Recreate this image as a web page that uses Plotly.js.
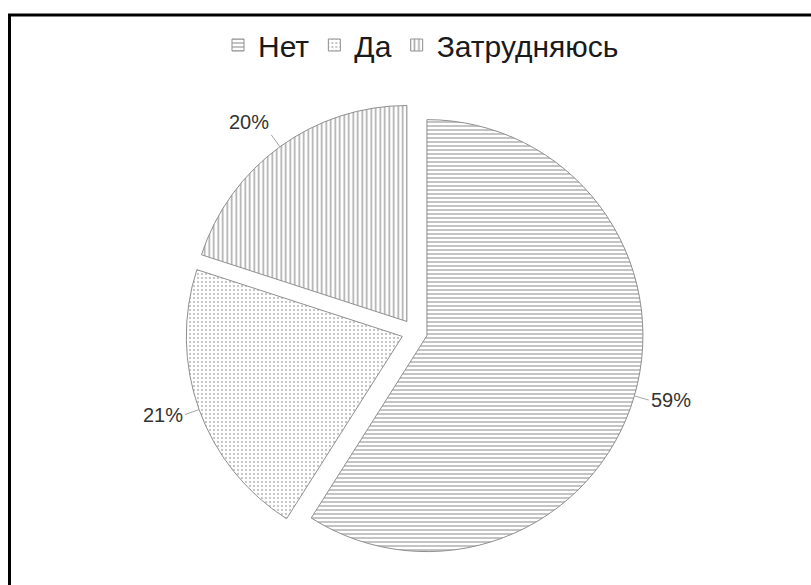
<!DOCTYPE html>
<html>
<head>
<meta charset="utf-8">
<script src="https://cdn.plot.ly/plotly-3.0.1.min.js"></script>
<style>
  html, body { margin: 0; padding: 0; background: #fff; }
  #chart { width: 811px; height: 585px; }
</style>
</head>
<body>
<div id="chart"></div>
<script>
// ---- data ----
const labels = ['Нет', 'Да', 'Затрудняюсь'];
const values = [59, 21, 20];
const valueText = ['59%', '21%', '20%'];
const patternShapes = ['-', '.', '|'];

// ---- layout constants ----
const W = 811, H = 585;
const cx = 414.5, cy = 332;      // pie centre in px (from top-left)
const R = 216;                    // slice radius in px
const pull = 0.06;                // explode fraction of radius
const outer = R * (1 + pull);     // radius incl. pull
const labelGap = 15;

const total = values.reduce((a, b) => a + b, 0);
let cum = 0;
const annotations = values.map((v, i) => {
  const theta = (cum + v / 2) / total * 2 * Math.PI;
  cum += v;
  const sx = Math.sin(theta), sy = -Math.cos(theta); // screen direction
  const ex = cx + outer * sx, ey = cy + outer * sy;
  return {
    x: ex / W, y: 1 - ey / H, xref: 'paper', yref: 'paper',
    text: valueText[i],
    showarrow: true, arrowhead: 0, arrowwidth: 1, arrowcolor: '#a6a6a6',
    standoff: 0, startstandoff: 0,
    ax: labelGap * sx, ay: labelGap * sy,
    xanchor: sx > 0.1 ? 'left' : (sx < -0.1 ? 'right' : 'center'),
    yanchor: -sy > 0.7 ? 'bottom' : (-sy < -0.7 ? 'top' : 'middle'),
    font: { family: 'Liberation Sans, Arial, sans-serif', size: 20, color: '#333333' }
  };
});

const halfY = outer / H;
const trace = {
  type: 'pie',
  labels: labels,
  values: values,
  sort: false,
  direction: 'clockwise',
  rotation: 0,
  pull: values.map(() => pull),
  textinfo: 'none',
  hoverinfo: 'none',
  marker: {
    colors: values.map(() => '#ffffff'),
    line: { color: '#8f8f8f', width: 1 },
    pattern: {
      shape: patternShapes,
      fgcolor: ['#555555', '#6a6a6a', '#555555'],
      bgcolor: '#ffffff',
      size: [4, 4, 4.5],
      solidity: [0.35, 0.2, 0.35],
      fillmode: 'overlay'
    }
  },
  domain: {
    x: [cx / W - 0.3, cx / W + 0.3],
    y: [1 - cy / H - halfY, 1 - cy / H + halfY]
  }
};

const layout = {
  width: W, height: H,
  margin: { l: 0, r: 0, t: 0, b: 0 },
  paper_bgcolor: '#ffffff',
  showlegend: true,
  legend: {
    orientation: 'h',
    x: 421 / W, xanchor: 'center',
    y: 1 - 19 / H, yanchor: 'top',
    font: { family: 'Liberation Sans, Arial, sans-serif', size: 30, color: '#1a1a1a' },
    itemclick: false, itemdoubleclick: false
  },
  annotations: annotations,
  shapes: [
    { type: 'line', xref: 'paper', yref: 'paper', x0: 9.5 / W, x1: 9.5 / W, y0: 0, y1: 1 - 15 / H,
      line: { color: '#000000', width: 3 } },
    { type: 'line', xref: 'paper', yref: 'paper', x0: 8 / W, x1: 1, y0: 1 - 15 / H, y1: 1 - 15 / H,
      line: { color: '#000000', width: 3 } }
  ]
};

Plotly.newPlot('chart', [trace], layout, { staticPlot: true, displayModeBar: false });
</script>
</body>
</html>
